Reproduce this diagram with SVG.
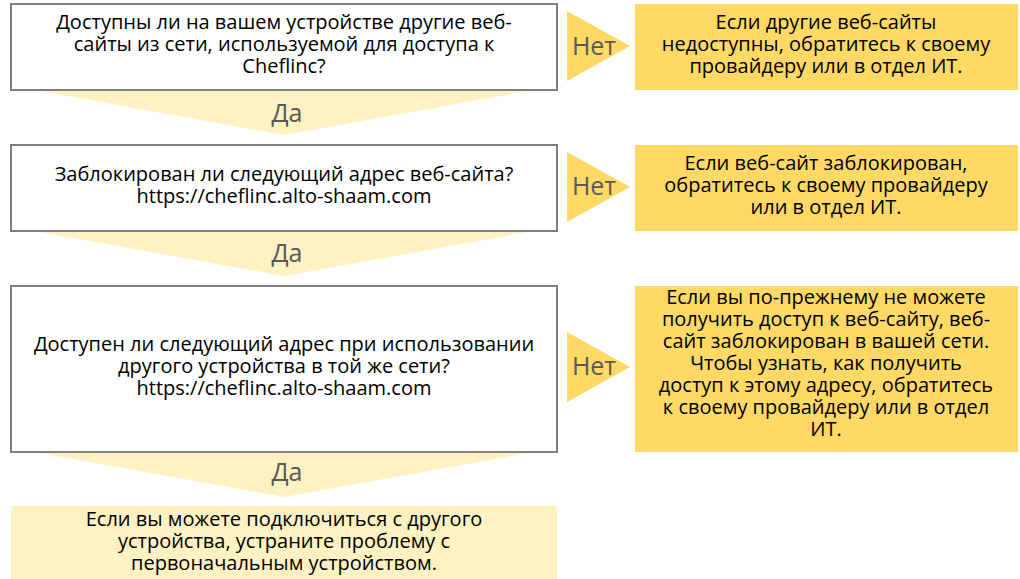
<svg xmlns="http://www.w3.org/2000/svg" width="1020" height="579" viewBox="0 0 1020 579">
<style>
.q{fill:#fff;stroke:#808080;stroke-width:2}
.down{fill:#FFF2C2}
.right{fill:#FFD966}
.res{fill:#FFD966}
.fin{fill:#FFF2C2}
text{font-family:"Open Sans","Noto Sans",sans-serif;text-anchor:middle}
.t{font-size:20px;fill:#000}
.l{font-size:25px;fill:#595959}
</style>
<g id="connectors">
<polygon class="down" points="40,91 528,91 284,135"/>
<text class="l" x="287" y="122">Да</text>
<polygon class="down" points="40,232 528,232 284,276"/>
<text class="l" x="287" y="262">Да</text>
<polygon class="down" points="40,453 528,453 284,497"/>
<text class="l" x="287" y="481">Да</text>
<polygon class="right" points="567,11 630,46 567,81"/>
<text class="l" x="594" y="55">Нет</text>
<polygon class="right" points="567,152 630,187 567,222"/>
<text class="l" x="594" y="195">Нет</text>
<polygon class="right" points="567,332 630,367 567,402"/>
<text class="l" x="594" y="375">Нет</text>
</g>
<g id="q1">
<rect class="q" x="11" y="4" width="546" height="86"/>
<text class="t" x="284"><tspan x="284" y="29">Доступны ли на вашем устройстве другие веб-</tspan><tspan x="284" y="51">сайты из сети, используемой для доступа к</tspan><tspan x="284" y="73">Cheflinc?</tspan></text>
</g>
<g id="r1">
<rect class="res" x="635" y="4" width="383" height="86"/>
<text class="t" x="826"><tspan x="826" y="29">Если другие веб-сайты</tspan><tspan x="826" y="51">недоступны, обратитесь к своему</tspan><tspan x="826" y="73">провайдеру или в отдел ИТ.</tspan></text>
</g>
<g id="q2">
<rect class="q" x="11" y="145" width="546" height="86"/>
<text class="t" x="284"><tspan x="284" y="181">Заблокирован ли следующий адрес веб-сайта?</tspan><tspan x="284" y="203">https://cheflinc.alto-shaam.com</tspan></text>
</g>
<g id="r2">
<rect class="res" x="635" y="145" width="383" height="86"/>
<text class="t" x="826"><tspan x="826" y="170">Если веб-сайт заблокирован,</tspan><tspan x="826" y="192">обратитесь к своему провайдеру</tspan><tspan x="826" y="214">или в отдел ИТ.</tspan></text>
</g>
<g id="q3">
<rect class="q" x="11" y="286" width="546" height="166"/>
<text class="t" x="284"><tspan x="284" y="351">Доступен ли следующий адрес при использовании</tspan><tspan x="284" y="373">другого устройства в той же сети?</tspan><tspan x="284" y="395">https://cheflinc.alto-shaam.com</tspan></text>
</g>
<g id="r3">
<rect class="res" x="635" y="286" width="383" height="166"/>
<text class="t" x="826"><tspan x="826" y="304">Если вы по-прежнему не можете</tspan><tspan x="826" y="326">получить доступ к веб-сайту, веб-</tspan><tspan x="826" y="348">сайт заблокирован в вашей сети.</tspan><tspan x="826" y="370">Чтобы узнать, как получить</tspan><tspan x="826" y="392">доступ к этому адресу, обратитесь</tspan><tspan x="826" y="414">к своему провайдеру или в отдел</tspan><tspan x="826" y="436">ИТ.</tspan></text>
</g>
<g id="final">
<rect class="fin" x="11" y="506" width="546" height="73"/>
<text class="t" x="284"><tspan x="284" y="526">Если вы можете подключиться с другого</tspan><tspan x="284" y="548">устройства, устраните проблему с</tspan><tspan x="284" y="570">первоначальным устройством.</tspan></text>
</g>
</svg>
